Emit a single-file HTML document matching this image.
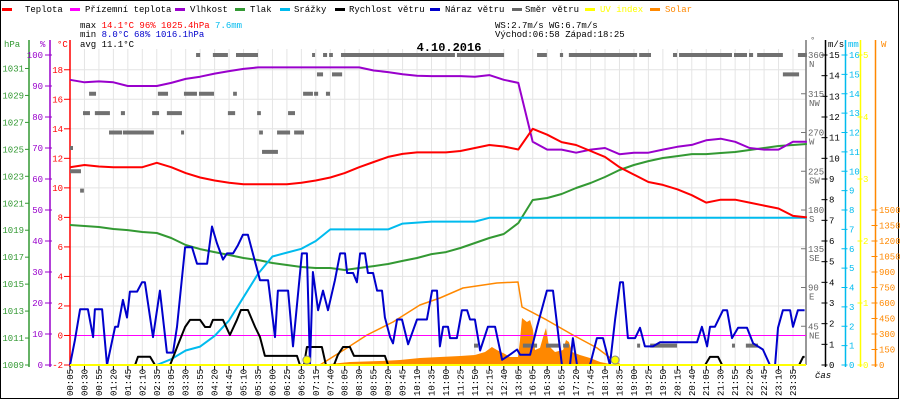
<!DOCTYPE html>
<html><head><meta charset="utf-8"><style>
html,body{margin:0;padding:0;background:#fff;}
svg{display:block;}
text{font-family:"Liberation Mono",monospace;font-size:9px;}
</style></head><body>
<svg id="chart" xmlns="http://www.w3.org/2000/svg" width="900" height="400" viewBox="0 0 900 400">
<rect x="0.5" y="0.5" width="898" height="398" fill="#fff" stroke="#000" stroke-width="1"/>
<g>
 <g><rect x="2" y="8" width="10" height="3" fill="#ff0000"/><text x="25" y="12">Teplota</text></g>
 <g><rect x="70" y="8" width="10" height="3" fill="#ff00ff"/><text x="85" y="12">Přízemní teplota</text></g>
 <g><rect x="175" y="8" width="10" height="3" fill="#9900cc"/><text x="190" y="12">Vlhkost</text></g>
 <g><rect x="235" y="8" width="10" height="3" fill="#339933"/><text x="250" y="12">Tlak</text></g>
 <g><rect x="280" y="8" width="10" height="3" fill="#00bbee"/><text x="294" y="12">Srážky</text></g>
 <g><rect x="335" y="8" width="10" height="3" fill="#000"/><text x="349" y="12">Rychlost větru</text></g>
 <g><rect x="430" y="8" width="10" height="3" fill="#0000cc"/><text x="445" y="12">Náraz větru</text></g>
 <g><rect x="512" y="8" width="10" height="3" fill="#666"/><text x="525" y="12">Směr větru</text></g>
 <g><rect x="585" y="8" width="10" height="3" fill="#ffff00"/><text x="600" y="12" fill="#ffff00">UV index</text></g>
 <g><rect x="650" y="8" width="10" height="3" fill="#ff8800"/><text x="665" y="12" fill="#ff8800">Solar</text></g>
</g>
<g>
 <text x="80" y="28">max <tspan fill="#ff0000">14.1°C  96%  1025.4hPa</tspan>   <tspan fill="#00bbee">7.6mm</tspan></text>
 <text x="80" y="37">min  <tspan fill="#0000cc"> 8.0°C  68%  1016.1hPa</tspan></text>
 <text x="80" y="47">avg 11.1°C</text>
 <text x="495" y="28">WS:2.7m/s     WG:6.7m/s</text>
 <text x="495" y="37">Východ:06:58  Západ:18:25</text>
</g>
<text x="449" y="51" text-anchor="middle" style="font-weight:bold;font-size:12px">4.10.2016</text>
<text x="4" y="47" fill="#339933">hPa</text>
<text x="40" y="47" fill="#9900cc">%</text>
<text x="57" y="47" fill="#ff0000">°C</text>
<text x="810" y="43" fill="#666">°</text>
<text x="828" y="47">m/s</text>
<text x="848" y="47" fill="#00bbee">mm</text>
<text x="881" y="47" fill="#ff8800">W</text>
<text x="815" y="378" style="font-style:italic">čas</text>
</svg>
<script>
// ---- data ----
const xLabels=["00:05","00:30","00:55","01:20","01:45","02:10","02:35","03:05","03:30","03:55","04:20","04:45","05:10","05:35","06:00","06:25","06:50","07:15","07:40","08:05","08:30","08:55","09:20","09:45","10:10","10:35","11:00","11:25","11:50","12:15","12:40","13:05","16:05","16:30","16:55","17:20","17:45","18:10","18:35","19:00","19:25","19:50","20:15","20:40","21:05","21:30","21:55","22:20","22:45","23:10","23:35"];
const temperature=[11.4,11.55,11.45,11.4,11.4,11.4,11.7,11.4,11.0,10.7,10.5,10.35,10.25,10.25,10.25,10.25,10.35,10.5,10.7,11.0,11.4,11.75,12.1,12.3,12.4,12.4,12.4,12.5,12.7,12.9,12.8,12.6,14.0,13.6,13.1,12.9,12.5,12.1,11.4,10.9,10.4,10.2,9.9,9.5,9.0,9.2,9.2,9.0,8.8,8.6,8.1,8.0];
const humidity=[92,91.2,91.5,91.2,90,90,90,91,92.3,93,94,94.8,95.5,96,96,96,96,96,96,96,96,95,94.5,93.8,93.3,93.2,93.2,93.2,93,93.5,92,91,72,69.5,69.5,68.5,69.5,70,68,68.5,68.5,69.5,70.4,71,72.5,73,72,70,69.5,69.5,72,72];
const pressure=[1019.39,1019.31,1019.24,1019.09,1019.01,1018.87,1018.79,1018.42,1017.9,1017.6,1017.38,1017.16,1016.94,1016.79,1016.57,1016.42,1016.27,1016.2,1016.2,1016.05,1016.2,1016.34,1016.49,1016.72,1016.94,1017.23,1017.38,1017.68,1018.05,1018.42,1018.72,1019.53,1021.24,1021.39,1021.69,1022.13,1022.5,1022.95,1023.47,1023.84,1024.13,1024.36,1024.5,1024.65,1024.65,1024.73,1024.8,1024.95,1025.1,1025.25,1025.32,1025.4];
const rain=[0,0,0,0,0,0,0,0.3,0.75,0.95,1.5,2.3,3.5,4.7,5.6,5.8,6.0,6.4,7.0,7.0,7.0,7.0,7.0,7.3,7.35,7.4,7.4,7.4,7.4,7.6,7.6,7.6,7.6,7.6,7.6,7.6,7.6,7.6,7.6,7.6,7.6,7.6,7.6,7.6,7.6,7.6,7.6,7.6,7.6,7.6,7.6,7.6];
const apparentTemp=[0,0];
const gustSample=[0,1.7,3.5,6.2,8.0,8.6,11.1,12.8,15.6,16.6,18.3,19.7,20.7,23.2,24.9,25.9,28.7,31.1,33.5,35.6,37.0,39.8,42.2,43.9,47.4,49.1,50.8,52.9,54.3,56.4,58.1,59.8,61.5,65.7,68.5,70.9,71.9,75.4,77.1,80.2,81.9,83.0,84.0,85.8,87.5,89.2,91.6,93.4,95.1,95.8,97.9,99.2,100.3,102.0,103.0,104.8,106.2,107.9,108.9,110.7,111.7,113.1,114.8,116.9,120.0,123.4,125.2,126.9,127.9,129.0,130.7,131.4,133.8,135.5,137.3,138.3,140.0,141.8,144.5,147.0,149.4,152.1,154.6,155.6,159.1,161.5,164.9,167.0,170.1,172.9,173.9,175.3,179.8,182.2,184.3,186.7,188.5,190.2,191.2,192.9,195.4,197.1,198.8,201.6,204.0,216.8,218.5,220.3,221.3,223.0,225.8,227.2,228.9,231.0,234.1,236.2,239.6,242.0,243.8,244.8,246.5,249.0,250.0,251.7,254];
const gustValue=[0,1.2,2.7,2.7,1.35,2.7,2.7,0,1.85,1.85,3.15,2.3,3.55,3.55,4.0,4.0,1.35,3.6,0.6,0.6,1.85,5.7,5.7,4.9,4.9,6.7,5.9,5.1,5.4,5.4,5.8,6.3,6.3,4.1,4.1,1.35,3.6,3.6,0.9,5.4,5.4,0,4.5,2.65,3.6,2.65,4.1,5.4,5.4,4.45,4.45,4.0,5.4,5.4,4.45,4.45,3.6,3.6,2.3,1.35,1.05,2.2,2.2,1.0,2.2,2.2,3.6,3.6,0.9,1.85,1.85,1.3,1.3,2.65,2.65,2.2,2.2,0.7,1.85,1.85,0.25,0.5,0.75,0.5,0.5,1.85,3.6,3.6,0,0,1.3,0,0,1.3,1.3,0,2.2,4.0,4.0,1.3,1.3,1.8,0.9,0.9,1.1,1.1,1.85,0.9,1.85,1.85,2.65,2.65,1.3,1.8,1.8,1.05,0.75,0,0,1.8,2.65,2.65,1.85,2.65,2.65];
const speedSample=[0,22.5,23.5,27.7,29.4,34.6,37.3,39.8,41.5,45.0,46.7,48.4,49.4,52.9,55.3,57.7,59.1,61.5,64.0,65.7,67.4,78.5,79.5,80.9,81.9,87.1,88.5,91.3,92.6,94.4,96.8,98.2,108.9,110.0,219.6,221.3,224.1,225.5,252.1,253.5,254];
const speedValue=[0,0,0.4,0.4,0,0,0.97,1.84,2.18,2.18,1.84,1.84,2.18,2.18,1.45,2.18,2.66,2.66,1.84,1.35,0.44,0.44,0,0,0.87,0.87,0,0,0.48,0.87,0.87,0.44,0.44,0,0,0.39,0.39,0,0,0.39,0.39];
const solarMaxSample=[86.4,95.8,102.7,111.7,121.0,127.9,135.9,147.6,154.9,156.3,164.9,173.9,182.2,187.8,190.2];
const solarMaxValue=[0,165,290,416,581,648,745,794,803,561,435,290,165,48,0];
const solarSample=[85.1,89.9,96.8,107.2,114.1,121.0,127.9,134.9,140.0,143.5,145.9,147.6,150.4,152.1,154.9,155.6,156.3,158.0,159.1,160.1,160.8,162.5,163.6,164.6,165.6,167.7,170.5,171.5,172.5,173.6,176.3,179.8,183.3,186.7,188.5];
const solarValue=[0,10,29,39,48,68,77,87,97,126,174,145,106,77,77,242,455,416,435,339,145,165,271,358,184,126,145,242,223,126,97,68,29,10,0];
const dirFrom=[43.6,49.4,57.4,83.7,87.5,89.6,93.7,133.8,161.5,169.4,172.5,196.8,208.5,210.6,229.6,234.8,237.6,251.7,85.4,90.6,246.5,6.6,30.4,39.4,44.6,56.4,80.6,84.4,88.5,4.5,8.6,17.6,28.4,33.5,54.6,64.7,75.4,13.5,18.3,38.4,65.4,71.6,77.5,0,66.4,0,3.5,139.7,156.6,164.6,170.5,196.1,200.6,228.9,233.7];
const dirTo=[45,54.6,65,84.7,88.9,90.9,133.1,150.1,164.9,170.5,196.1,200.9,209.9,228.9,234.1,236.2,246.5,254.8,87.5,94.1,252.1,9.0,33.9,43.9,49.8,57.7,84.0,85.8,89.9,6.9,13.8,19.0,30.8,38.7,57.1,66.0,77.8,18.0,29.0,39.4,66.7,76.1,80.9,0.9,71.9,3.8,4.8,141.1,161.5,169.4,172.5,196.8,209.9,229.9,237.9];
const dirValue=[360,360,360,360,360,360,360,360,360,360,360,360,360,360,360,360,360,360,337.5,337.5,337.5,315,315,315,315,315,315,315,315,292.5,292.5,292.5,292.5,292.5,292.5,292.5,292.5,270,270,270,270,270,270,252,247.5,225,202.5,22.5,22.5,22.5,22.5,22.5,22.5,22.5,22.5];
const sunEvents=[81.9,188.5];
const hpaTicks=[1009,1011,1013,1015,1017,1019,1021,1023,1025,1027,1029,1031];
const humTicks=[0,10,20,30,40,50,60,70,80,90,100];
const tempTicks=[-2,0,2,4,6,8,10,12,14,16,18];
const windTicks=[0,1,2,3,4,5,6,7,8,9,10,11,12,13,14,15];
const rainTicks=[0,1,2,3,4,5,6,7,8,9,10,11,12,13,14,15,16];
const uvTicks=[0,1,2,3,4,5];
const solarTicks=[0,150,300,450,600,750,900,1050,1200,1350,1500];
const dirTicks=[45,90,135,180,225,270,315,360];
const dirNames=["NE","E","SE","S","SW","W","NW","N"];

// ---- scales ----
const NS="http://www.w3.org/2000/svg";
const svg=document.getElementById('chart');
const TOP=55,BOT=365,H=BOT-TOP;
const xS=s=>70+s*2.892;
const yT=v=>BOT-(v+2)*H/21;
const yHum=v=>BOT-v*H/100;
const yP=v=>BOT-(v-1009)*H/23;
const yWind=v=>BOT-v*H/15;
const yRain=v=>BOT-v*H/16;
const yUV=v=>BOT-v*H/5;
const ySol=v=>BOT-v*H/3000;
const yDir=v=>BOT-v*H/360;
function mk(tag,attrs,parent){const e=document.createElementNS(NS,tag);for(const k in attrs)e.setAttribute(k,attrs[k]);(parent||svg).appendChild(e);return e;}
function poly(xsArr,ysArr,color,w){return mk('polyline',{points:xsArr.map((x,i)=>x.toFixed(1)+','+ysArr[i].toFixed(1)).join(' '),fill:'none',stroke:color,'stroke-width':w,'stroke-linejoin':'round'});}

// ---- grid ----
const grid=mk('g',{});


xLabels.forEach((l,k)=>{
  const g=mk('line',{x1:xS(5*k),x2:xS(5*k),y1:49,y2:BOT,stroke:'#e4e4e4','stroke-width':1},grid);
  
  
});
tempTicks.forEach(v=>{
  const g=mk('line',{x1:70,x2:806,y1:yT(v),y2:yT(v),stroke:'#e4e4e4','stroke-width':1},grid);
  
  
});

// ---- left axes ----
function axis(x,color,ticks,yf,name,side,fmt,labX,anchor,t1,t2){
  const g=mk('g',{});
  
  
  mk('line',{x1:x,x2:x,y1:TOP-15,y2:BOT+2,stroke:color,'stroke-width':1.5},g);
  ticks.forEach(v=>{
    const y=yf(v);
    mk('line',{x1:x+t1,x2:x+t2,y1:y,y2:y,stroke:color,'stroke-width':1},g);
    const t=mk('text',{x:labX,y:y+3,fill:color,'text-anchor':anchor},g);
    
    
    t.textContent=fmt?fmt(v):v;
  });
}
axis(29,'#339933',hpaTicks,yP,'hpa-axis','l',null,24,'end',-4,0);
axis(50,'#9900cc',humTicks,yHum,'humidity-axis','l',null,43,'end',-5,2);
axis(70,'#ff0000',tempTicks,yT,'temp-axis','l',null,63,'end',-6,0);
axis(825.5,'#000',windTicks,yWind,'wind-axis','r',null,829,'start',-4,2);
axis(845.5,'#00bbee',rainTicks,yRain,'rain-axis','r',null,849,'start',-4,2);
axis(860.5,'#ffff00',uvTicks,yUV,'uv-axis','r',null,863,'start',-3,2);
axis(875.5,'#ff8800',solarTicks,ySol,'solar-axis','r',null,879,'start',-4,2);
// direction axis
const dg=mk('g',{});


mk('line',{x1:806,x2:806,y1:40,y2:BOT,stroke:'#777','stroke-width':1.5},dg);
dirTicks.forEach((v,i)=>{
  const y=yDir(v);
  mk('line',{x1:801,x2:806,y1:y,y2:y,stroke:'#777'},dg);
  const t=mk('text',{x:808,y:y+3,fill:'#666'},dg);
  
  
  t.textContent=v;
  const n=mk('text',{x:809,y:y+12,fill:'#666'},dg);
  
  
  n.textContent=dirNames[i];
});

// ---- series ----
const lblS=temperature.map((v,k)=>Math.min(5*k,254.8));
const solarArea=mk('polygon',{points:solarSample.map((s,i)=>xS(s).toFixed(1)+','+ySol(solarValue[i]).toFixed(1)).join(' '),fill:'#ff8800',stroke:'none'});


const solarMax=poly(solarMaxSample.map(xS),solarMaxValue.map(ySol),'#ff8800',1.5);


const appT=mk('line',{x1:70,x2:806,y1:yT(apparentTemp[0]),y2:yT(apparentTemp[1]),stroke:'#ff00ff','stroke-width':1});


dirFrom.forEach((s,i)=>{
  const x1=xS(s),x2=Math.max(xS(dirTo[i]),x1+3);
  const r=mk('rect',{x:x1,y:yDir(dirValue[i])-2,width:x2-x1,height:4,fill:'#707070'});
  
  
});
const pL=poly(lblS.map(xS),pressure.map(yP),'#339933',2);


const rL=poly(lblS.map(xS),rain.map(yRain),'#00bbee',2);


const hL=poly(lblS.map(xS),humidity.map(yHum),'#9900cc',2);


const tL=poly(lblS.map(xS),temperature.map(yT),'#ff0000',2);


const sL=poly(speedSample.map(xS),speedValue.map(yWind),'#000',2);


const gL=poly(gustSample.map(xS),gustValue.map(yWind),'#0000cc',2);


const uv=mk('line',{x1:70,x2:806,y1:yUV(0),y2:yUV(0),stroke:'#ffff00','stroke-width':2});


sunEvents.forEach(s=>{
  const c=mk('circle',{cx:xS(s),cy:BOT-5,r:4,fill:'#ffff00',stroke:'#888','stroke-width':1});
  
  
});

// ---- x axis ----
xLabels.forEach((l,k)=>{
  const x=xS(5*k);
  mk('line',{x1:x,x2:x,y1:BOT+1,y2:BOT+5,stroke:'#000'});
  const t=mk('text',{x:0,y:0,transform:'translate('+(x+3)+',396) rotate(-90)'});
  
  
  t.textContent=l;
});
</script>
</body></html>
